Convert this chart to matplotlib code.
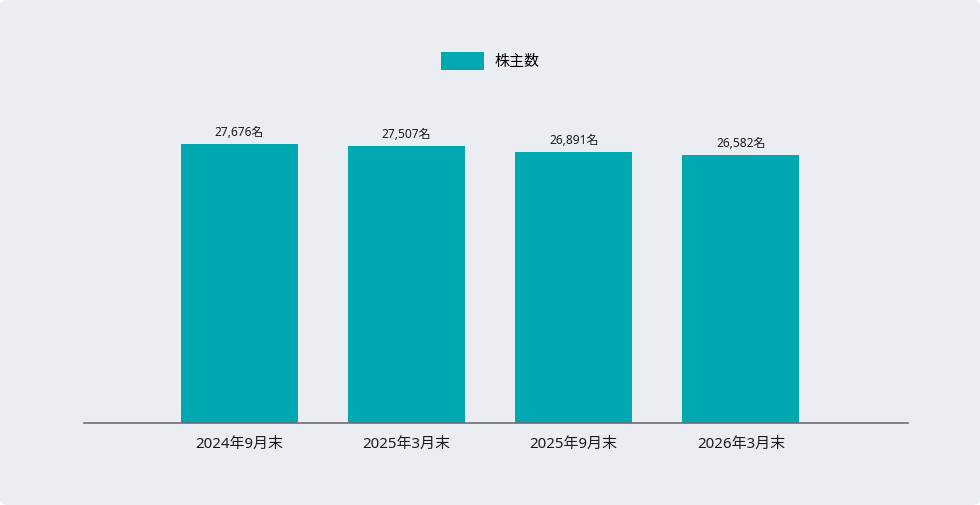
import matplotlib.pyplot as plt
from matplotlib.patches import FancyBboxPatch, Patch

plt.rcParams['font.family'] = ['Noto Sans', 'Noto Sans CJK JP', 'DejaVu Sans']

# データ
categories = ['2024年9月末', '2025年3月末', '2025年9月末', '2026年3月末']
shareholders = [27676, 27507, 26891, 26582]
series_name = '株主数'

bar_color = '#00A9B2'
bg_color = '#EAEEF3'

fig = plt.figure(figsize=(9.8, 5.05), dpi=100, facecolor='white')
# 角丸の背景
bg = FancyBboxPatch((0.0, 0.0), 1.0, 1.0, boxstyle='round,pad=0,rounding_size=0.009',
                    transform=fig.transFigure, facecolor=bg_color, edgecolor='none', zorder=-10)
fig.patches.append(bg)

ax = fig.add_axes([0.0857, 0.1624, 0.8408, 0.6386])
ax.set_facecolor('none')

x = range(len(categories))
bars = ax.bar(x, shareholders, width=0.7, color=bar_color, zorder=2)

for xi, v in zip(x, shareholders):
    ax.annotate(f'{v:,}名', (xi, v), xytext=(0, 3.5), textcoords='offset points',
                ha='center', va='bottom', fontsize=8.6, color='#1a1a1a')

ax.set_xlim(-0.93, 4.0)
ax.set_ylim(0, 32000)
ax.set_xticks(list(x))
ax.set_xticklabels(categories, fontsize=10.8, color='#1a1a1a')
ax.tick_params(axis='x', length=0, pad=10)
ax.set_yticks([])
for s in ['top', 'right', 'left']:
    ax.spines[s].set_visible(False)
ax.spines['bottom'].set_color('#6b6e72')
ax.spines['bottom'].set_linewidth(1.2)
ax.spines['bottom'].set_zorder(3)

handle = Patch(facecolor=bar_color, edgecolor='none')
fig.legend([handle], [series_name], loc='center', bbox_to_anchor=(0.5, 0.879),
           frameon=False, handlelength=2.9, handleheight=1.45,
           handletextpad=0.7, prop={'size': 10.8})

fig.savefig('out.png', dpi=100, facecolor='white')
